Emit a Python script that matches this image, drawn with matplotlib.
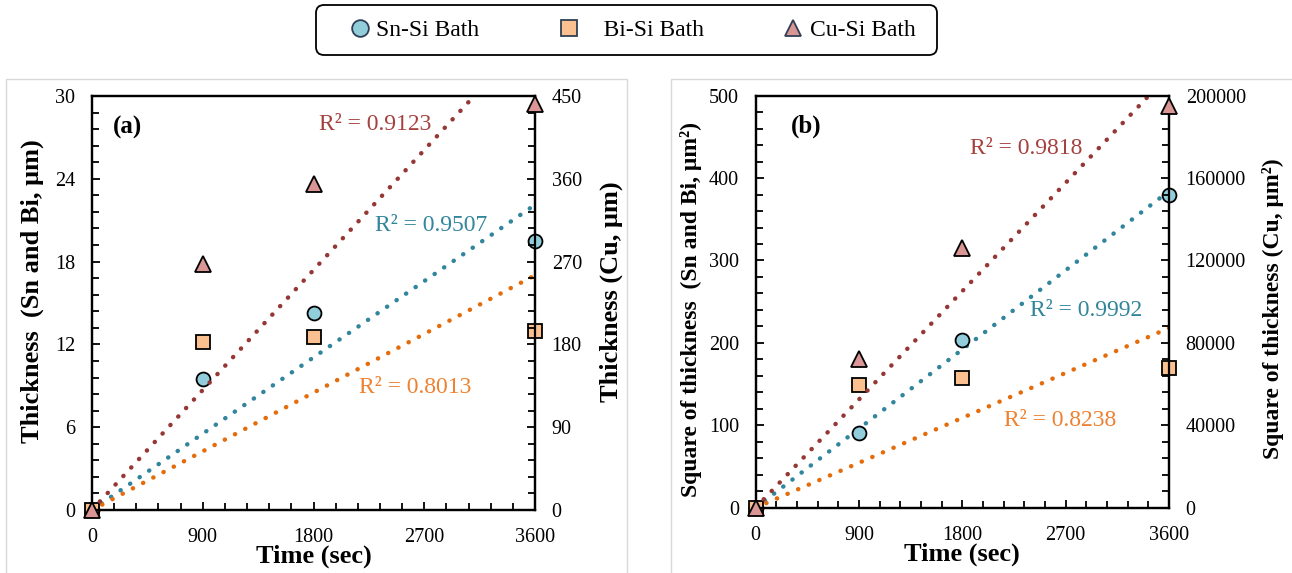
import numpy as np
import matplotlib.pyplot as plt
from matplotlib.ticker import MultipleLocator
from matplotlib.lines import Line2D
from matplotlib.patches import Rectangle, FancyBboxPatch
from matplotlib.transforms import IdentityTransform

# 字体设置 (Times 风格)
plt.rcParams['font.family'] = ['Liberation Serif', 'DejaVu Serif']
plt.rcParams['axes.unicode_minus'] = False

# 数据
time_s = [0, 900, 1800, 3600]
# 厚度 (um)
sn_thk = [0, 9.5, 14.3, 19.5]
bi_thk = [0, 12.2, 12.55, 13.0]
cu_thk = [0, 267, 354, 441]
# 厚度平方 (um^2)
sn_sq = [0, 91, 203, 380]
bi_sq = [0, 149, 158, 170]
cu_sq = [0, 72000, 126000, 195000]

r2_a = ['R² = 0.9507', 'R² = 0.8013', 'R² = 0.9123']   # Sn, Bi, Cu
r2_b = ['R² = 0.9992', 'R² = 0.8238', 'R² = 0.9818']

# 颜色
FILL = {'Sn': '#92CDDC', 'Bi': '#FAC090', 'Cu': '#D99694'}
LINE = {'Sn': '#31859C', 'Bi': '#E46C0A', 'Cu': '#953735'}
TXT = {'Sn': '#31859C', 'Bi': '#EE8232', 'Cu': '#A5413F'}
MARK = {'Sn': 'o', 'Bi': 's', 'Cu': '^'}
MSIZE = {'Sn': 10, 'Bi': 10, 'Cu': 12}

W, H = 1292, 573
TICK_FS = 14.5


def fit0(x, y):
    # 过原点线性拟合 (截距为0)
    x = np.asarray(x, float)
    y = np.asarray(y, float)
    return (x * y).sum() / (x * x).sum()


def trend(ax, y, key):
    k = fit0(time_s, y)
    tt = np.array([time_s[0], time_s[-1]])
    ax.plot(tt, k * tt, color=LINE[key], lw=3.2, linestyle=(0, (0.05, 2.55)),
            dash_capstyle='round', zorder=2)


def points(ax, y, key):
    ax.plot(time_s, y, linestyle='none', marker=MARK[key], ms=MSIZE[key],
            mfc=FILL[key], mec='black', mew=1.3, clip_on=False, zorder=5)


def style_axes(ax, ax2, ymax, ystep, y2max, y2step):
    ax.set_xlim(0, 3600)
    ax.set_ylim(0, ymax)
    ax2.set_ylim(0, y2max)
    ax.xaxis.set_major_locator(MultipleLocator(900))
    ax.xaxis.set_minor_locator(MultipleLocator(180))
    ax.yaxis.set_major_locator(MultipleLocator(ystep))
    ax.yaxis.set_minor_locator(MultipleLocator(ystep / 5))
    ax2.yaxis.set_major_locator(MultipleLocator(y2step))
    ax2.yaxis.set_minor_locator(MultipleLocator(y2step / 5))
    for a in (ax, ax2):
        for sp in a.spines.values():
            sp.set_linewidth(1.6)
    ax.tick_params(axis='x', which='both', direction='in', top=False, labelsize=TICK_FS, pad=13)
    ax.tick_params(axis='y', which='both', direction='in', right=False, labelsize=TICK_FS, pad=12)
    ax2.tick_params(axis='y', which='both', direction='in', left=False, labelsize=TICK_FS, pad=12)
    for a in (ax, ax2):
        a.tick_params(which='major', length=6, width=1.3)
        a.tick_params(which='minor', length=5, width=1.3)
    ax.set_xlabel('Time (sec)', fontsize=19, fontweight='bold', labelpad=-1.5)


fig = plt.figure(figsize=(W / 100, H / 100), dpi=100)

# 面板外框
fig.add_artist(Rectangle((6 / W, -0.02), 621 / W, (H - 79) / H + 0.02, transform=fig.transFigure,
                         fill=False, edgecolor='#d9d9d9', lw=1))
fig.add_artist(Rectangle((671 / W, -0.02), 0.5, (H - 79) / H + 0.02, transform=fig.transFigure,
                         fill=False, edgecolor='#d9d9d9', lw=1))

# (a) 厚度
ax_a = fig.add_axes([92 / W, 1 - 510 / H, 443 / W, 414 / H])
ax_a2 = ax_a.twinx()
trend(ax_a, sn_thk, 'Sn')
trend(ax_a, bi_thk, 'Bi')
trend(ax_a2, cu_thk, 'Cu')
points(ax_a, sn_thk, 'Sn')
points(ax_a, bi_thk, 'Bi')
points(ax_a2, cu_thk, 'Cu')
style_axes(ax_a, ax_a2, 30, 6, 450, 90)
ax_a.set_ylabel('Thickness  (Sn and Bi, μm)', fontsize=19, fontweight='bold')
ax_a2.set_ylabel('Thickness (Cu, μm)', fontsize=19, fontweight='bold')
ax_a.yaxis.set_label_coords(-48 / 443, 0.528)
ax_a2.yaxis.set_label_coords(1 + 65 / 443, 0.527)
ax_a2.text(0.047, 0.925, '(a)', transform=ax_a2.transAxes, fontsize=18, fontweight='bold', va='center')
ax_a2.text(0.512, 0.932, r2_a[2], transform=ax_a2.transAxes, fontsize=17, color=TXT['Cu'], va='center')
ax_a2.text(0.639, 0.686, r2_a[0], transform=ax_a2.transAxes, fontsize=17, color=TXT['Sn'], va='center')
ax_a2.text(0.603, 0.297, r2_a[1], transform=ax_a2.transAxes, fontsize=17, color=TXT['Bi'], va='center')

# (b) 厚度平方
ax_b = fig.add_axes([755.7 / W, 1 - 507.7 / H, 413.3 / W, 412 / H])
ax_b2 = ax_b.twinx()
trend(ax_b, sn_sq, 'Sn')
trend(ax_b, bi_sq, 'Bi')
trend(ax_b2, cu_sq, 'Cu')
points(ax_b, sn_sq, 'Sn')
points(ax_b, bi_sq, 'Bi')
points(ax_b2, cu_sq, 'Cu')
style_axes(ax_b, ax_b2, 500, 100, 200000, 40000)
ax_b.set_ylabel('Square of thickness  (Sn and Bi, μm²)', fontsize=17, fontweight='bold')
ax_b2.set_ylabel('Square of thickness (Cu, μm²)', fontsize=17, fontweight='bold')
ax_b.yaxis.set_label_coords(-54 / 413.3, 0.48)
ax_b2.yaxis.set_label_coords(1 + 93 / 413.3, 0.484)
ax_b2.text(0.085, 0.925, '(b)', transform=ax_b2.transAxes, fontsize=18, fontweight='bold', va='center')
ax_b2.text(0.5185, 0.873, r2_b[2], transform=ax_b2.transAxes, fontsize=17, color=TXT['Cu'], va='center')
ax_b2.text(0.664, 0.479, r2_b[0], transform=ax_b2.transAxes, fontsize=17, color=TXT['Sn'], va='center')
ax_b2.text(0.601, 0.212, r2_b[1], transform=ax_b2.transAxes, fontsize=17, color=TXT['Bi'], va='center')

# 图例 (外框单独画)
fig.add_artist(FancyBboxPatch((316, H - 55), 621, 50, boxstyle='round,pad=0,rounding_size=8',
                              transform=IdentityTransform(), facecolor='white',
                              edgecolor='black', lw=1.3, zorder=0))
handles = [Line2D([], [], linestyle='none', marker=MARK[k], ms=12, mfc=FILL[k], mec='#2F3F55', mew=1.3)
           for k in ('Sn', 'Bi', 'Cu')]
labels = ['Sn-Si Bath', '   Bi-Si Bath', 'Cu-Si Bath']
leg = fig.legend(handles, labels, loc='center', bbox_to_anchor=(633 / W, 1 - 30 / H), ncol=3,
                 fontsize=17, frameon=False, columnspacing=3.4, handletextpad=0.3,
                 handlelength=0.8, borderpad=0, borderaxespad=0)

fig.savefig('out.png', dpi=100)
